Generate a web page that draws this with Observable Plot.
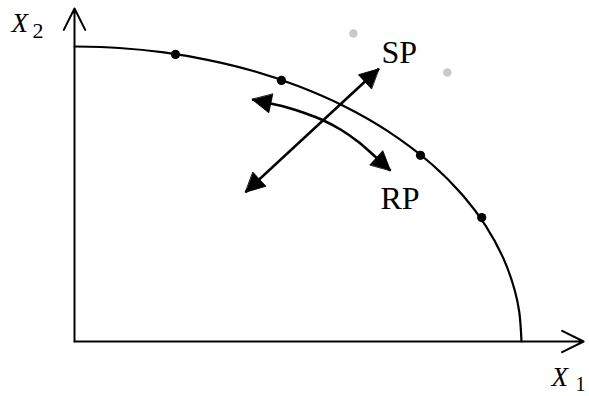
<!DOCTYPE html>
<html>
<head>
<meta charset="utf-8">
<script src="https://cdn.jsdelivr.net/npm/d3@7"></script>
<script src="https://cdn.jsdelivr.net/npm/@observablehq/plot@0.6"></script>
<style>
  html, body { margin: 0; padding: 0; background: #fff; }
  #chart svg { display: block; }
</style>
</head>
<body>
<div id="chart"></div>
<script>
// Frontier curve (X1, X2)
const curveX = [0, 0.1, 0.2, 0.3, 0.4, 0.5, 0.6, 0.7, 0.8, 0.87, 0.92, 0.96, 0.985, 0.995, 1];
const curveY = [1, 0.995, 0.98, 0.954, 0.917, 0.866, 0.8, 0.714, 0.6, 0.493, 0.392, 0.28, 0.173, 0.1, 0];
// Black points on the frontier
const pointX = [0.226, 0.463, 0.774, 0.911];
const pointY = [0.973, 0.885, 0.631, 0.42];
// Gray points outside the frontier
const grayX = [0.624, 0.834];
const grayY = [1.044, 0.912];
// SP double arrow (straight)
const spX = [0.3826, 0.6808];
const spY = [0.5061, 0.9244];
// RP double arrow (curved, along the frontier)
const rpX = [0.3975, 0.434, 0.472, 0.5145, 0.5548, 0.5951, 0.6353, 0.6711, 0.7069];
const rpY = [0.8203, 0.8085, 0.7949, 0.7746, 0.7508, 0.7186, 0.6763, 0.6288, 0.5797];
// Axis extents
const axisEndX = 1.139;
const axisEndY = 1.129;
// Text labels
const labelText = ["SP", "RP"];
const labelX = [0.6868, 0.6846];
const labelY = [0.9803, 0.4854];

const W = 589, H = 396;
const xOpts = {domain: [0, 1], range: [74, 521]};
const yOpts = {domain: [0, 1], range: [341, 46]};
const sx = Plot.scale({x: xOpts});
const sy = Plot.scale({y: yOpts});

const curve = curveX.map((x, i) => ({x, y: curveY[i]}));
const points = pointX.map((x, i) => ({x, y: pointY[i]}));
const grays = grayX.map((x, i) => ({x, y: grayY[i]}));
const sp = spX.map((x, i) => ({x, y: spY[i]}));
const rp = rpX.map((x, i) => ({x, y: rpY[i]}));
const axes = [
  {x1: 0, y1: 0, x2: axisEndX, y2: 0},
  {x1: 0, y1: 0, x2: 0, y2: axisEndY}
];
const labels = labelText.map((t, i) => ({t, x: labelX[i], y: labelY[i]}));

// head direction angle (degrees clockwise from up) from prev point to tip
function headAngle(tip, prev) {
  const dx = sx.apply(tip.x) - sx.apply(prev.x);
  const dy = sy.apply(tip.y) - sy.apply(prev.y);
  return Math.atan2(dx, -dy) * 180 / Math.PI;
}
const heads = [
  {...sp[1], a: headAngle(sp[1], sp[0])},
  {...sp[0], a: headAngle(sp[0], sp[1])},
  {...rp[0], a: headAngle(rp[0], rp[1])},
  {...rp[rp.length - 1], a: headAngle(rp[rp.length - 1], rp[rp.length - 2])}
];

const triangle = {
  draw(context, l, r) {
    context.moveTo(0, -l);
    context.lineTo(-r, 0);
    context.lineTo(r, 0);
    context.closePath();
  }
};

const serif = "'Liberation Serif', 'DejaVu Serif', serif";

const chart = Plot.plot({
  width: W,
  height: H,
  margin: 0,
  x: {...xOpts, axis: null},
  y: {...yOpts, axis: null},
  style: {background: "#fff", color: "#000"},
  marks: [
    Plot.arrow(axes, {x1: "x1", y1: "y1", x2: "x2", y2: "y2", stroke: "#000", strokeWidth: 2, headAngle: 53, headLength: 18}),
    Plot.line(curve, {x: "x", y: "y", stroke: "#000", strokeWidth: 2.2, curve: "catmull-rom"}),
    Plot.dot(points, {x: "x", y: "y", r: 4.6, fill: "#000", stroke: "none"}),
    Plot.dot(grays, {x: "x", y: "y", r: 4.3, fill: "#c9c9c9", stroke: "none"}),
    Plot.line(sp, {x: "x", y: "y", stroke: "#000", strokeWidth: 2.6, strokeLinecap: "butt"}),
    Plot.line(rp, {x: "x", y: "y", stroke: "#000", strokeWidth: 2.6, strokeLinecap: "butt", curve: "catmull-rom"}),
    Plot.vector(heads, {x: "x", y: "y", rotate: "a", length: 19, r: 9.5, anchor: "end", shape: triangle, fill: "#000", stroke: "#000", strokeWidth: 0.8, strokeLinejoin: "miter"}),
    Plot.text(labels, {x: "x", y: "y", text: "t", textAnchor: "start", fontSize: 32, fontFamily: serif, fill: "#000"}),
    Plot.text(["X"], {x: () => -0.141, y: () => 1.080, textAnchor: "start", fontSize: 27, fontStyle: "italic", fontFamily: serif, fill: "#000"}),
    Plot.text(["2"], {x: () => -0.094, y: () => 1.0525, textAnchor: "start", fontSize: 22, fontFamily: serif, fill: "#000"}),
    Plot.text(["X"], {x: () => 1.0671, y: () => -0.12, textAnchor: "start", fontSize: 27, fontStyle: "italic", fontFamily: serif, fill: "#000"}),
    Plot.text(["1"], {x: () => 1.1208, y: () => -0.1444, textAnchor: "start", fontSize: 20, fontFamily: serif, fill: "#000"})
  ]
});
document.getElementById("chart").appendChild(chart);
</script>
</body>
</html>
